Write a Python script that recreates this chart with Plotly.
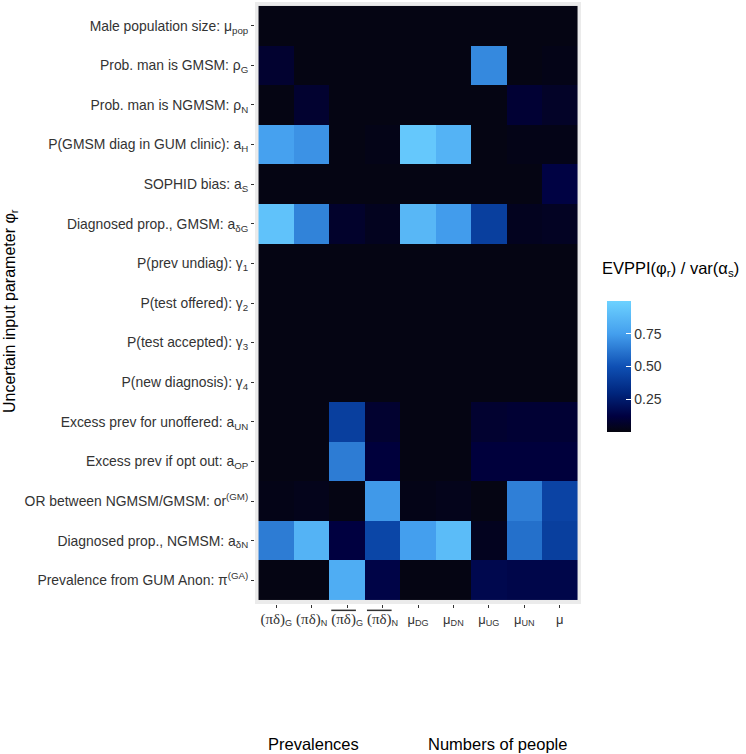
import plotly.graph_objects as go

params = [
    "Male population size: μ<sub>pop</sub>",
    "Prob. man is GMSM: ρ<sub>G</sub>",
    "Prob. man is NGMSM: ρ<sub>N</sub>",
    "P(GMSM diag in GUM clinic): a<sub>H</sub>",
    "SOPHID bias: a<sub>S</sub>",
    "Diagnosed prop., GMSM: a<sub>δG</sub>",
    "P(prev undiag): γ<sub>1</sub>",
    "P(test offered): γ<sub>2</sub>",
    "P(test accepted): γ<sub>3</sub>",
    "P(new diagnosis): γ<sub>4</sub>",
    "Excess prev for unoffered: a<sub>UN</sub>",
    "Excess prev if opt out: a<sub>OP</sub>",
    "OR between NGMSM/GMSM: or<sup>(GM)</sup>",
    "Diagnosed prop., NGMSM: a<sub>δN</sub>",
    "Prevalence from GUM Anon: π<sup>(GA)</sup>",
]

SERIF = '<span style="font-family:Liberation Serif;font-size:15px">(πδ)</span>'
SERIF_OL = '<span style="font-family:Liberation Serif;font-size:15px;text-decoration:overline">(πδ)</span>'
outputs = [
    SERIF + "<sub>G</sub>",
    SERIF + "<sub>N</sub>",
    SERIF_OL + "<sub>G</sub>",
    SERIF_OL + "<sub>N</sub>",
    "μ<sub>DG</sub>",
    "μ<sub>DN</sub>",
    "μ<sub>UG</sub>",
    "μ<sub>UN</sub>",
    "μ",
]

# EVPPI(phi_r) / var(alpha_s), rows = params (top to bottom), cols = outputs
evppi = [
    [0.01, 0.01, 0.01, 0.01, 0.01, 0.01, 0.01, 0.01, 0.01],
    [0.08, 0.01, 0.01, 0.01, 0.01, 0.01, 0.68, 0.01, 0.02],
    [0.01, 0.08, 0.01, 0.01, 0.01, 0.01, 0.01, 0.09, 0.06],
    [0.76, 0.71, 0.01, 0.02, 0.95, 0.85, 0.01, 0.02, 0.02],
    [0.01, 0.01, 0.01, 0.01, 0.01, 0.01, 0.01, 0.01, 0.13],
    [0.92, 0.66, 0.07, 0.04, 0.87, 0.74, 0.42, 0.04, 0.05],
    [0.01, 0.01, 0.01, 0.01, 0.01, 0.01, 0.01, 0.01, 0.01],
    [0.01, 0.01, 0.01, 0.01, 0.01, 0.01, 0.01, 0.01, 0.01],
    [0.01, 0.01, 0.01, 0.01, 0.01, 0.01, 0.01, 0.01, 0.01],
    [0.01, 0.01, 0.01, 0.01, 0.01, 0.01, 0.01, 0.01, 0.01],
    [0.01, 0.01, 0.42, 0.08, 0.01, 0.01, 0.08, 0.09, 0.09],
    [0.01, 0.01, 0.64, 0.11, 0.01, 0.01, 0.11, 0.11, 0.11],
    [0.02, 0.03, 0.01, 0.73, 0.02, 0.03, 0.01, 0.65, 0.44],
    [0.64, 0.85, 0.12, 0.45, 0.75, 0.89, 0.04, 0.60, 0.42],
    [0.01, 0.01, 0.82, 0.14, 0.01, 0.01, 0.16, 0.15, 0.15],
]

colorbar_ticks = [0.25, 0.50, 0.75]
group_labels = ["Prevalences", "Numbers of people"]
group_centres = [1.05, 6.25]

cscale = [
    [0.0, "#05050f"],
    [0.12, "#000040"],
    [0.3, "#00267e"],
    [0.5, "#0f50b4"],
    [0.75, "#449fee"],
    [1.0, "#6dd2ff"],
]

L, R, T, B = 255, 165, 2, 150
W, H = 746, 754
PW, PH = W - L - R, H - T - B


def px_x(px):
    return (px - L) / PW


def px_y(py):
    return (H - B - py) / PH


fig = go.Figure(
    go.Heatmap(
        z=evppi,
        x=list(range(len(outputs))),
        y=list(range(len(params))),
        colorscale=cscale,
        zmin=0,
        zmax=1.0,
        colorbar=dict(
            x=px_x(607),
            xanchor="left",
            y=px_y(432),
            yanchor="bottom",
            thickness=24,
            thicknessmode="pixels",
            len=131,
            lenmode="pixels",
            outlinewidth=0,
            tickvals=colorbar_ticks,
            ticktext=["%.2f" % v for v in colorbar_ticks],
            ticks="inside",
            ticklen=5,
            tickcolor="white",
            tickfont=dict(size=14, color="#333333"),
            xpad=0,
            ypad=0,
        ),
    )
)

fig.update_layout(
    width=W,
    height=H,
    margin=dict(l=L, r=R, t=T, b=B),
    paper_bgcolor="white",
    plot_bgcolor="#EBEBEB",
    font=dict(family="Liberation Sans, Arial, sans-serif", color="#333333"),
    xaxis=dict(
        range=[-0.6, len(outputs) - 0.4],
        tickvals=list(range(len(outputs))),
        ticktext=outputs,
        tickangle=0,
        ticks="outside",
        ticklen=3,
        tickcolor="#333333",
        tickfont=dict(size=13, color="#333333"),
        showgrid=False,
        zeroline=False,
    ),
    yaxis=dict(
        range=[len(params) - 0.4, -0.6],
        tickvals=list(range(len(params))),
        ticktext=params,
        ticks="outside",
        ticklen=3,
        tickcolor="#333333",
        tickfont=dict(size=13.9, color="#333333"),
        showgrid=False,
        zeroline=False,
    ),
)

annotations = [
    dict(
        text="Uncertain input parameter φ<sub>r</sub>",
        xref="paper", yref="paper",
        x=px_x(10), y=px_y(311),
        xanchor="center", yanchor="middle",
        textangle=-90, showarrow=False,
        font=dict(size=16, color="black"),
    ),
    dict(
        text="EVPPI(φ<sub>r</sub>) / var(α<sub>s</sub>)",
        xref="paper", yref="paper",
        x=px_x(600), y=px_y(269),
        xanchor="left", yanchor="middle",
        showarrow=False,
        font=dict(size=16.5, color="black"),
    ),
]
for lab, c in zip(group_labels, group_centres):
    annotations.append(
        dict(
            text=lab,
            xref="x", yref="paper",
            x=c, y=px_y(744),
            xanchor="center", yanchor="middle",
            showarrow=False,
            font=dict(size=16.5, color="black"),
        )
    )
fig.update_layout(annotations=annotations)

fig.write_html(
    "out.html",
    config={"displayModeBar": False},
    post_script="document.body.style.margin='0';",
)
